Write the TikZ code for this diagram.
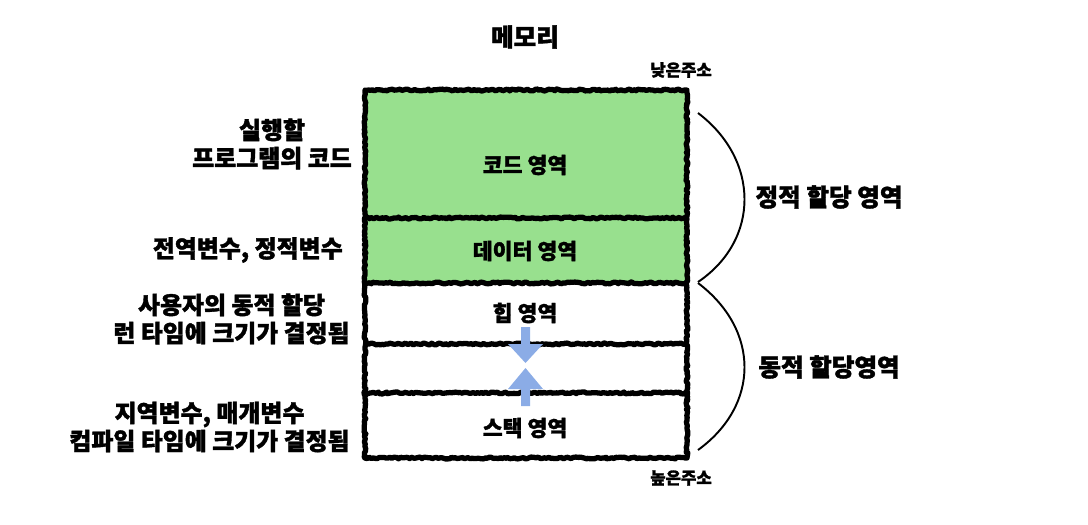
\documentclass[tikz,border=0pt]{standalone}
\usepackage{fontspec}
\newfontfamily\kor{Noto Sans CJK KR}[BoldFeatures={FakeBold=1.6}]
\usetikzlibrary{decorations.pathmorphing}

\definecolor{codegreen}{RGB}{152,224,142}
\definecolor{arrowblue}{RGB}{139,172,230}

\tikzset{
  memwall/.style={draw=black, line width=3pt, line join=round,
    decorate, decoration={random steps, segment length=1.2pt, amplitude=0.55pt}},
  lbl/.style={font=\kor\bfseries\fontsize{12.3}{16}\selectfont, align=center, inner sep=0pt},
  note/.style={font=\kor\bfseries\fontsize{13.6}{16}\selectfont, align=center, inner sep=0pt, anchor=east},
  side/.style={font=\kor\bfseries\fontsize{14}{16}\selectfont, inner sep=0pt},
  addr/.style={font=\kor\bfseries\fontsize{9.5}{11}\selectfont, inner sep=0pt},
  brace/.style={draw=black, line width=1.1pt}
}

\begin{document}
\begin{tikzpicture}[x=0.02cm,y=-0.02cm]
\useasboundingbox (0,0) rectangle (1088,524);

\node [lbl, font=\kor\bfseries\fontsize{14}{16}\selectfont] (title) at (525,37) {메모리};

% memory block
\fill [codegreen] (365,90) rectangle (687,283);
\draw [memwall] (365,90) rectangle (687,458);
\draw [memwall] (365,218) -- (687,218);
\draw [memwall] (365,283) -- (687,283);
\draw [memwall] (365,344) -- (687,344);
\draw [memwall] (365,393) -- (687,393);

\node [addr] (low) at (681,70) {낮은주소};
\node [addr] (high) at (681,478) {높은주소};

\node [lbl] (code) at (525,165) {코드 영역};
\node [lbl] (data) at (525,251) {데이터 영역};
\node [lbl] (heap) at (525,313) {힙 영역};
\node [lbl] (stack) at (525,428) {스택 영역};

% heap grows down, stack grows up
\fill [arrowblue] (521,327) -- (530,327) -- (530,344) -- (543,344) -- (525.5,363) -- (508,344) -- (521,344) -- cycle;
\fill [arrowblue] (521,406) -- (530,406) -- (530,389) -- (543,389) -- (525.5,368) -- (508,389) -- (521,389) -- cycle;

% left notes
\node [note] (codenote) at (352,144) {실행할\\프로그램의 코드};
\node [note] (datanote) at (343,250) {전역변수, 정적변수};
\node [note] (heapnote) at (350,319) {사용자의 동적 할당\\런 타임에 크기가 결정됨};
\node [note] (stacknote) at (350,427) {지역변수, 매개변수\\컴파일 타임에 크기가 결정됨};

% right braces
\draw [brace] (698,113) .. controls (760,160) and (760,240) .. (698,282);
\draw [brace] (698,283) .. controls (760,330) and (760,405) .. (698,450);

\node [side] (static) at (829,197) {정적 할당 영역};
\node [side] (dynamic) at (829,367) {동적 할당영역};

\end{tikzpicture}
\end{document}
